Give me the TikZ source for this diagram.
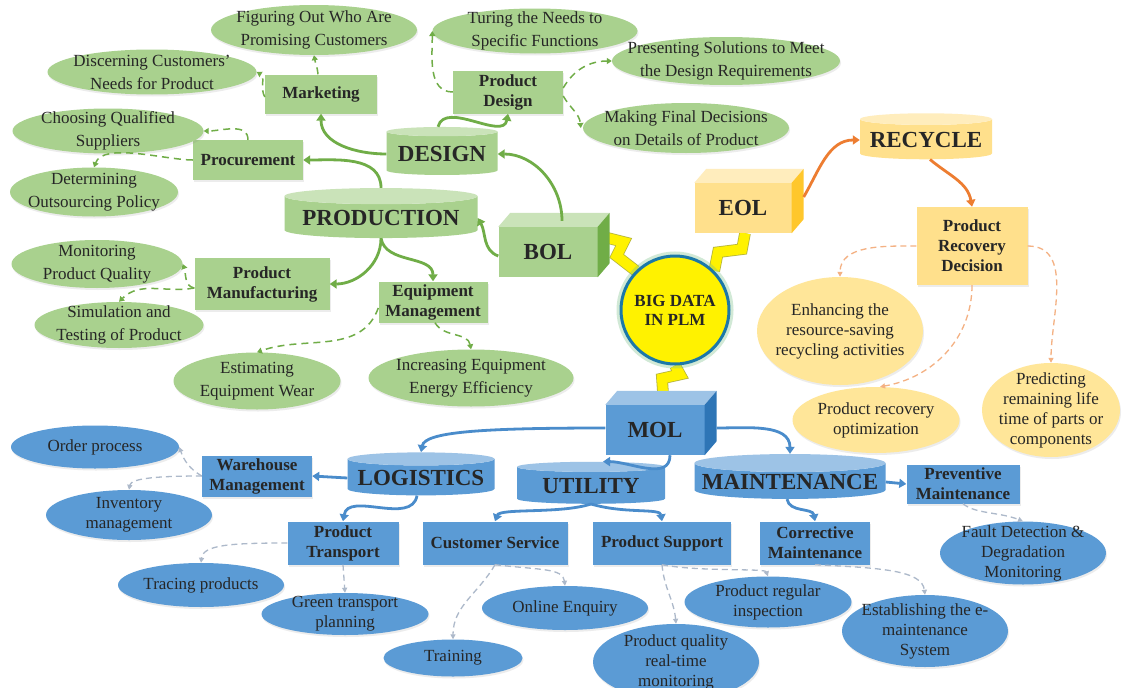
\documentclass[tikz,border=0pt]{standalone}
\usepackage{fontspec}
\setmainfont{Liberation Serif}
\usetikzlibrary{shapes.geometric, arrows.meta, shadows, backgrounds}

\definecolor{leaf}{HTML}{A9D18E}
\definecolor{leaftop}{HTML}{CAE3B9}
\definecolor{leafdark}{HTML}{70AD47}
\definecolor{gold}{HTML}{FFE08C}
\definecolor{goldell}{HTML}{FFE699}
\definecolor{goldtop}{HTML}{FFEDBD}
\definecolor{golddark}{HTML}{FFC72C}
\definecolor{goldline}{HTML}{ED7D31}
\definecolor{golddash}{HTML}{F4B183}
\definecolor{sky}{HTML}{5B9BD5}
\definecolor{skytop}{HTML}{9DC3E6}
\definecolor{skydark}{HTML}{2E75B6}
\definecolor{skyline}{HTML}{4A8CCB}
\definecolor{skydash}{HTML}{ADB9CA}
\definecolor{ring}{HTML}{1C78A8}
\definecolor{halo}{HTML}{7CC08A}
\definecolor{boltedge}{HTML}{B5B53C}

% top face and side face of a box node
\newcommand{\cubefaces}[3]{%
  \fill[#2] (#1.north west) -- ([shift={(12,-14)}]#1.north west)
    -- ([shift={(12,-14)}]#1.north east) -- (#1.north east) -- cycle;
  \fill[#3] (#1.north east) -- ([shift={(12,-14)}]#1.north east)
    -- ([shift={(12,-14)}]#1.south east) -- (#1.south east) -- cycle;
}

\begin{document}
\begin{tikzpicture}[
		x=1pt, y=-1pt,
		every node/.style={text=black!85, align=center},
		plaintxt/.style={font=\fontsize{17}{21}\selectfont},
		boldtxt/.style={font=\fontsize{17}{20}\selectfont\bfseries},
		headtxt/.style={font=\fontsize{23}{26}\selectfont\bfseries},
		bubble/.style={plaintxt, ellipse, inner xsep=-30pt, inner ysep=-20pt,
			drop shadow={opacity=0.15, shadow xshift=1pt, shadow yshift=-2pt}},
		card/.style={boldtxt, rectangle, inner sep=2pt,
			drop shadow={opacity=0.15, shadow xshift=1pt, shadow yshift=-2pt}},
		can/.style={headtxt, cylinder, shape border rotate=90, aspect=0.1,
			cylinder uses custom fill, inner sep=2pt},
		cube/.style={headtxt, rectangle, minimum width=99pt, minimum height=50pt},
		garrow/.style={draw=leafdark, line width=2.8pt, -{Triangle[width=9pt,length=7pt]}},
		gdashed/.style={draw=leafdark, line width=1.5pt, dash pattern=on 7pt off 5pt, -{Triangle[width=6pt,length=5pt]}},
		oarrow/.style={draw=goldline, line width=2.8pt, -{Triangle[width=9pt,length=7pt]}},
		odashed/.style={draw=golddash, line width=1.3pt, dash pattern=on 6pt off 4pt, -{Triangle[width=5pt,length=5pt]}},
		barrow/.style={draw=skyline, line width=2.8pt, -{Triangle[width=9pt,length=7pt]}},
		bdashed/.style={draw=skydash, line width=1.3pt, dash pattern=on 6pt off 4pt, -{Triangle[width=5pt,length=5pt]}},
		bolt/.style={draw=boltedge, double=yellow, double distance=10pt, line width=0.8pt, line join=miter}
		]
		
		\useasboundingbox (0,0) rectangle (1122,688);
		\begin{scope}[on background layer]
			\fill[white] (0,0) rectangle (1122,688);
		\end{scope}
		
		% Centre
		\node[circle, minimum size=108pt, fill=yellow, draw=ring, line width=3pt,
			preaction={draw=halo, line width=9pt, opacity=0.35},
			font=\fontsize{17}{19}\selectfont\bfseries] (bigdata) at (675,310) {BIG DATA\\IN PLM};
		
		% Life-cycle blocks
		\node[cube, fill=leaf] (bol) at (548,252) {BOL};
		\cubefaces{bol}{leaftop}{leafdark}
		\node[cube, fill=gold, minimum width=97pt] (eol) at (743,208) {EOL};
		\cubefaces{eol}{goldtop}{golddark}
		\node[cube, fill=sky] (mol) at (655,430) {MOL};
		\cubefaces{mol}{skytop}{skydark}
		
		% Bolts to the centre
		\begin{scope}[on background layer]
			\draw[bolt] ([shift={(10,-14)}]bol.east) -- ++(16,4) -- ++(-7,14) -- (bigdata.135);
			\draw[bolt] ([xshift=2pt]eol.south) -- ++(-3,16) -- ++(-24,3) -- (bigdata.45);
			\draw[bolt] (bigdata.-90) -- ++(5,9) -- ++(-18,4) -- ([shift={(8,-12)}]mol.north);
		\end{scope}
		
		% BOL (green)
		\node[can, cylinder body fill=leaf, cylinder end fill=leaftop, minimum width=111pt, minimum height=48pt] (design) at (442,154) {DESIGN};
		\node[can, cylinder body fill=leaf, cylinder end fill=leaftop, minimum width=193pt, minimum height=50pt] (production) at (381,218) {PRODUCTION};
		
		\foreach \nm/\pos/\ww/\hh/\txt in {
			marketing/{321,94}/112/39/Marketing,
			procure/{248,160}/110/40/Procurement,
			pdesign/{508,92}/110/43/{Product\\Design},
			manuf/{262,284}/135/52/{Product\\Manufacturing},
			equip/{433,302}/109/41/{Equipment\\Management}}
		\node[card, fill=leaf, minimum width=\ww pt, minimum height=\hh pt] (\nm) at (\pos) {\txt};
		
		\foreach \nm/\pos/\ww/\hh/\txt in {
			figure/{314,30}/206/50/{Figuring Out Who Are\\Promising Customers},
			discern/{152,72}/209/45/{Discerning Customers'\\Needs for Product},
			choose/{108,131}/191/45/{Choosing Qualified\\Suppliers},
			outsrc/{94,192}/168/49/{Determining\\Outsourcing Policy},
			turing/{535,31}/205/45/{Turing the Needs to\\Specific Functions},
			present/{726,61}/228/48/{Presenting Solutions to Meet\\the Design Requirements},
			finaldec/{686,128}/206/50/{Making Final Decisions\\on Details of Product},
			monitor/{97,264}/171/48/{Monitoring\\Product Quality},
			simul/{119,325}/169/46/{Simulation and\\Testing of Product},
			wear/{257,381}/167/57/{Estimating\\Equipment Wear},
			energy/{471,378}/205/57/{Increasing Equipment\\Energy Efficiency}}
		\node[bubble, fill=leaf, font=\fontsize{17}{23}\selectfont, minimum width=\ww pt, minimum height=\hh pt] (\nm) at (\pos) {\txt};
		
		\draw[garrow] ([shift={(14,-6)}]bol.north) to[out=90,in=0] (design.east);
		\draw[garrow] ([yshift=-4pt]bol.west) to[out=160,in=-60] (production.east);
		\draw[garrow] (design.west) to[out=180,in=-90] (marketing.south);
		\draw[garrow] ([xshift=-4pt]design.north) to[out=75,in=-100] (pdesign.south);
		\draw[garrow] (production.north) to[out=90,in=0] (procure.east);
		\draw[garrow] (production.south) to[out=-90,in=0] (manuf.east);
		\draw[garrow] (production.south) to[out=-80,in=90] (equip.north);
		
		\draw[gdashed] ([xshift=-3pt]marketing.north) to[out=95,in=-80] (figure.south);
		\draw[gdashed] ([yshift=-3pt]marketing.west) to[out=120,in=-30] (discern.east);
		\draw[gdashed] (procure.north) to[out=90,in=0] (choose.east);
		\draw[gdashed] (procure.west) to[out=180,in=70,looseness=0.7] (outsrc.north);
		\draw[gdashed] (pdesign.west) to[out=180,in=-90] (turing.west);
		\draw[gdashed] ([yshift=4pt]pdesign.east) to[out=60,in=180] (present.west);
		\draw[gdashed] ([yshift=-4pt]pdesign.east) to[out=-60,in=95] ([xshift=-2pt]finaldec.west);
		\draw[gdashed] ([yshift=-4pt]manuf.west) to[out=170,in=-70] (monitor.east);
		\draw[gdashed] ([yshift=-4pt]manuf.west) to[out=190,in=45] (simul.north);
		\draw[gdashed] ([yshift=-6pt]equip.west) to[out=-110,in=20] (wear.north);
		\draw[gdashed] ([xshift=2pt]equip.south) to[out=-60,in=100] (energy.north);
		
		% EOL (gold)
		\node[can, cylinder body fill=gold, cylinder end fill=goldtop, minimum width=132pt, minimum height=46pt] (recycle) at (926,140) {RECYCLE};
		\node[card, fill=gold, minimum width=111pt, minimum height=78pt] (prd) at (972,246) {Product\\Recovery\\Decision};
		
		\foreach \nm/\pos/\ww/\hh/\txt in {
			enhance/{840,331}/166/108/{Enhancing the\\resource-saving\\recycling activities},
			recopt/{876,420}/167/66/{Product recovery\\optimization},
			predict/{1051,410}/138/94/{Predicting\\remaining life\\time of parts or\\components}}
		\node[bubble, fill=goldell, font=\fontsize{17}{20}\selectfont, minimum width=\ww pt, minimum height=\hh pt] (\nm) at (\pos) {\txt};
		
		\draw[oarrow] ([shift={(12,-11)}]eol.east) to[out=60,in=180] (recycle.west);
		\draw[oarrow] ([xshift=4pt]recycle.south) to[out=-40,in=100] (prd.north);
		\draw[odashed] (prd.west) to[out=180,in=90] (enhance.north);
		\draw[odashed] (prd.south) to[out=-90,in=10] ([xshift=4pt]recopt.north);
		\draw[odashed] (prd.east) to[out=0,in=90] (predict.north);
		
		% MOL (blue)
		\node[can, cylinder body fill=sky, cylinder end fill=skytop, minimum width=147pt, minimum height=43pt] (logistics) at (421,478) {LOGISTICS};
		\node[can, cylinder body fill=sky, cylinder end fill=skytop, minimum width=148pt, minimum height=42pt] (utility) at (591,486) {UTILITY};
		\node[can, cylinder body fill=sky, cylinder end fill=skytop, minimum width=191pt, minimum height=40pt] (maint) at (790,482) {MAINTENANCE};
		
		\foreach \nm/\pos/\ww/\hh/\txt in {
			warehouse/{257,476}/110/41/{Warehouse\\Management},
			ptransport/{343,543}/111/43/{Product\\Transport},
			custserv/{495,543}/145/43/{Customer Service},
			psupport/{662,543}/138/43/{Product Support},
			corrective/{815,543}/110/43/{Corrective\\Maintenance},
			preventive/{963,484}/113/39/{Preventive\\Maintenance}}
		\node[card, fill=sky, minimum width=\ww pt, minimum height=\hh pt] (\nm) at (\pos) {\txt};
		
		\foreach \nm/\pos/\ww/\hh/\txt in {
			order/{95,447}/168/43/{Order process},
			inventory/{129,515}/166/50/{Inventory\\management},
			tracing/{201,585}/166/44/{Tracing products},
			greentr/{345,614}/167/42/{Green transport\\planning},
			training/{453,658}/139/37/{Training},
			enquiry/{565,608}/166/44/{Online Enquiry},
			quality/{676,662}/166/76/{Product quality\\real-time\\monitoring},
			regular/{768,602}/167/51/{Product regular\\inspection},
			emaint/{925,631}/166/72/{Establishing the e-\\maintenance\\System},
			fault/{1023,553}/166/63/{Fault Detection \&\\Degradation\\Monitoring}}
		\node[bubble, fill=sky, font=\fontsize{17}{20}\selectfont, minimum width=\ww pt, minimum height=\hh pt] (\nm) at (\pos) {\txt};
		
		\draw[barrow] ([yshift=2pt]mol.west) .. controls (480,428) and (425,432) .. (logistics.north);
		\draw[barrow] ([shift={(12,-2)}]mol.east) to[out=0,in=90] (maint.north);
		\draw[barrow] ([xshift=15pt]mol.south) to[out=-90,in=0] ([xshift=12pt]utility.north);
		\draw[barrow] (logistics.west) -- (warehouse.east);
		\draw[barrow] ([xshift=-4pt]logistics.south) to[out=-100,in=80] (ptransport.north);
		\draw[barrow] (utility.south) .. controls (560,514) and (500,508) .. (custserv.north);
		\draw[barrow] (utility.south) .. controls (625,514) and (660,508) .. (psupport.north);
		\draw[barrow] (maint.east) -- (preventive.west);
		\draw[barrow] ([xshift=-3pt]maint.south) to[out=-80,in=100] (corrective.north);
		
		\draw[bdashed] (warehouse.west) to[out=150,in=-70] (order.east);
		\draw[bdashed] (warehouse.west) .. controls (160,476) and (131,478) .. (inventory.north);
		\draw[bdashed] (ptransport.west) .. controls (230,543) and (203,545) .. (tracing.north);
		\draw[bdashed] (ptransport.south) -- (greentr.north);
		\draw[bdashed] (custserv.south) to[out=-120,in=90] (training.north);
		\draw[bdashed] (custserv.south) .. controls (540,570) and (563,568) .. (enquiry.north);
		\draw[bdashed] (psupport.south) to[out=-85,in=95] (quality.north);
		\draw[bdashed] (psupport.south) .. controls (700,572) and (765,568) .. (regular.north);
		\draw[bdashed] (corrective.south) .. controls (880,568) and (922,570) .. (emaint.north);
		\draw[bdashed] (preventive.south) .. controls (975,514) and (1000,512) .. (fault.north);
		
	\end{tikzpicture}
\end{document}
